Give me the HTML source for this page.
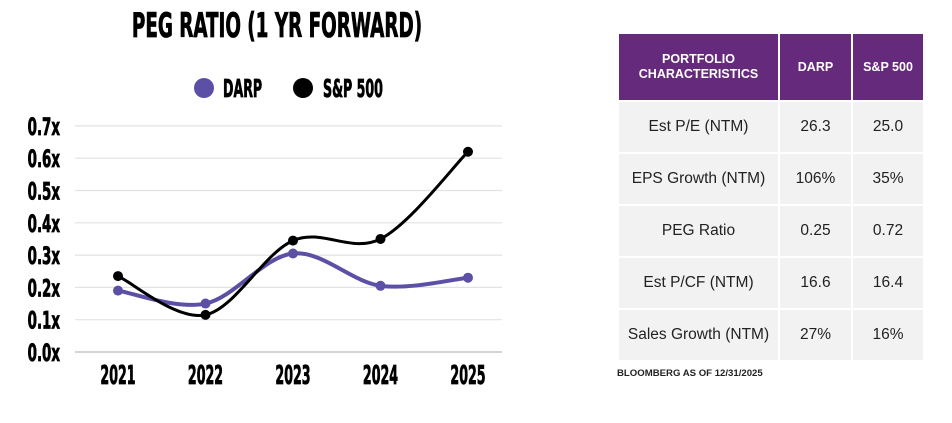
<!DOCTYPE html>
<html><head><meta charset="utf-8">
<style>
body{margin:0;background:#fff;width:952px;height:423px;overflow:hidden;position:relative;font-family:"Liberation Sans",sans-serif}
.cond{font-family:"Liberation Sans Narrow","DejaVu Sans Condensed","Liberation Sans",sans-serif;font-weight:bold;stroke:#000;stroke-width:0.8}
table{position:absolute;left:617px;top:32px;border-collapse:collapse;width:306px;table-layout:fixed}
td,th{text-align:center;padding:0;border:2px solid #fff}
th{background:#652a7c;color:#fff;font-size:12.5px;font-weight:bold;height:66px;line-height:15px}
td{background:#f2f2f2;color:#222;font-size:15.5px;height:50px}
#foot{position:absolute;left:617px;top:368px;font-size:9.6px;font-weight:bold;color:#222}
</style></head><body>
<svg width="600" height="423" style="position:absolute;left:0;top:0" id="chart">
<text x="277" y="37" text-anchor="middle" class="cond" font-size="34" transform="translate(277,0) scale(0.6,1) translate(-277,0)" fill="#000">PEG RATIO (1 YR FORWARD)</text>
<g>
<circle cx="204" cy="88" r="10" fill="#5b4fa6"/>
<text x="223" y="97" class="cond" font-size="25" transform="translate(223,0) scale(0.56,1) translate(-223,0)">DARP</text>
<circle cx="303" cy="88" r="10" fill="#000"/>
<text x="323" y="97" class="cond" font-size="25" transform="translate(323,0) scale(0.56,1) translate(-323,0)">S&amp;P 500</text>
</g>
<g id="grid"></g><g id="series"></g>
</svg>
<table>
<colgroup><col style="width:161px"><col style="width:73px"><col style="width:72px"></colgroup>
<tr><th>PORTFOLIO<br>CHARACTERISTICS</th><th>DARP</th><th>S&amp;P 500</th></tr>
<tr><td>Est P/E (NTM)</td><td>26.3</td><td>25.0</td></tr>
<tr><td>EPS Growth (NTM)</td><td>106%</td><td>35%</td></tr>
<tr><td>PEG Ratio</td><td>0.25</td><td>0.72</td></tr>
<tr><td>Est P/CF (NTM)</td><td>16.6</td><td>16.4</td></tr>
<tr><td>Sales Growth (NTM)</td><td>27%</td><td>16%</td></tr>
</table>
<div id="foot">BLOOMBERG AS OF 12/31/2025</div>
<script>
const years=["2021","2022","2023","2024","2025"];
const darp=[0.19,0.15,0.305,0.205,0.23];
const sp500=[0.235,0.115,0.345,0.35,0.62];
const yTicks=[0,0.1,0.2,0.3,0.4,0.5,0.6,0.7];
const yTickLabels=["0.0x","0.1x","0.2x","0.3x","0.4x","0.5x","0.6x","0.7x"];
const NS="http://www.w3.org/2000/svg";
const xS=i=>118+i*87.5, yS=v=>352-v*323;
const grid=document.getElementById('grid'), ser=document.getElementById('series');
yTicks.forEach((t,i)=>{
 const l=document.createElementNS(NS,'line');
 
 
 l.setAttribute('x1',75);l.setAttribute('x2',502);l.setAttribute('y1',yS(t));l.setAttribute('y2',yS(t));
 l.setAttribute('stroke',i==0?'#bbb':'#e2e2e2');l.setAttribute('stroke-width',1.2);grid.appendChild(l);
 const tx=document.createElementNS(NS,'text');
 
 
 tx.setAttribute('x',60);tx.setAttribute('y',yS(t)+9);tx.setAttribute('text-anchor','end');tx.setAttribute('class','cond');tx.setAttribute('font-size','24');
 tx.setAttribute('transform','translate(60,0) scale(0.62,1) translate(-60,0)');
 tx.textContent=yTickLabels[i];grid.appendChild(tx);
});
years.forEach((y,i)=>{
 const tx=document.createElementNS(NS,'text');
 
 
 const x=xS(i);
 tx.setAttribute('x',x);tx.setAttribute('y',384);tx.setAttribute('text-anchor','middle');tx.setAttribute('class','cond');tx.setAttribute('font-size','26');
 tx.setAttribute('transform',`translate(${x},0) scale(0.54,1) translate(${-x},0)`);
 tx.textContent=y;grid.appendChild(tx);
});
function draw(vals,color,w,name){
 const p=vals.map((v,i)=>[xS(i),yS(v)]);
 let d=`M${p[0][0]},${p[0][1]}`;
 for(let i=0;i<p.length-1;i++){
  const p0=p[i-1]||p[i],p1=p[i],p2=p[i+1],p3=p[i+2]||p2;
  const c1=[p1[0]+(p2[0]-p0[0])/6,p1[1]+(p2[1]-p0[1])/6],c2=[p2[0]-(p3[0]-p1[0])/6,p2[1]-(p3[1]-p1[1])/6];
  d+=` C${c1[0]},${c1[1]} ${c2[0]},${c2[1]} ${p2[0]},${p2[1]}`;
 }
 const path=document.createElementNS(NS,'path');
 
 
 path.setAttribute('d',d);path.setAttribute('fill','none');path.setAttribute('stroke',color);path.setAttribute('stroke-width',w);
 ser.appendChild(path);
 p.forEach(q=>{
  const c=document.createElementNS(NS,'circle');
  
  
  c.setAttribute('cx',q[0]);c.setAttribute('cy',q[1]);c.setAttribute('r',5);c.setAttribute('fill',color);ser.appendChild(c);
 });
}
draw(darp,'#5b4fa6',4,'darp');
draw(sp500,'#000',3,'sp500');
</script>
</body></html>
